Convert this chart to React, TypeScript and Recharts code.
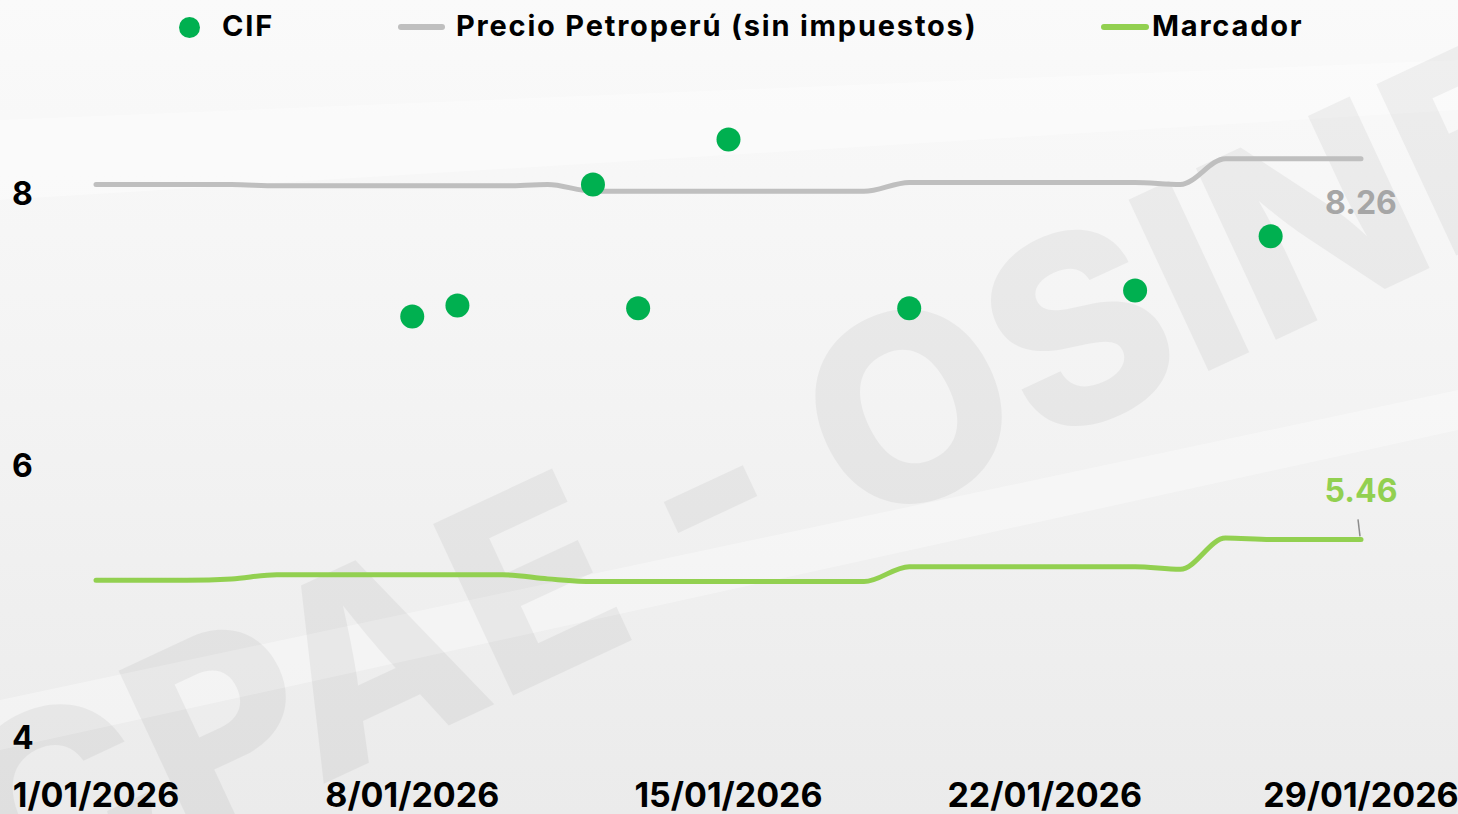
import React from 'react'
import { ComposedChart, Line, Scatter, XAxis, YAxis } from 'recharts'

const days = [1, 2, 3, 4, 5, 6, 7, 8, 9, 10, 11, 12, 13, 14, 15, 16, 17, 18, 19, 20, 21, 22, 23, 24, 25, 26, 27, 28, 29]

const precio = [
  8.07, 8.07, 8.07, 8.07, 8.06, 8.06, 8.06, 8.06, 8.06, 8.06, 8.07, 8.02, 8.02, 8.02, 8.02,
  8.02, 8.02, 8.02, 8.085, 8.085, 8.085, 8.085, 8.085, 8.085, 8.07, 8.26, 8.26, 8.26, 8.26,
]

const marcador = [
  5.16, 5.16, 5.16, 5.17, 5.2, 5.2, 5.2, 5.2, 5.2, 5.2, 5.17, 5.15, 5.15, 5.15, 5.15,
  5.15, 5.15, 5.15, 5.26, 5.26, 5.26, 5.26, 5.26, 5.26, 5.24, 5.47, 5.46, 5.46, 5.46,
]

const cifDays = [8, 9, 12, 13, 15, 19, 24, 27]
const cifValues = [7.1, 7.18, 8.07, 7.16, 8.4, 7.16, 7.29, 7.69]

const xTicks = [1, 8, 15, 22, 29]
const yTicks = [4, 6, 8]

const data = days.map((d, i) => ({ day: d, precio: precio[i], marcador: marcador[i] }))
const cifData = cifDays.map((d, i) => ({ day: d, cif: cifValues[i] }))

const FONT = 'Inter, "Noto Sans", sans-serif'
const W = 1458
const H = 814

// fondo con marca de agua (imagen de fondo en el original)
const Watermark = () => (
  <svg width={W} height={H} style={{ position: 'absolute', left: 0, top: 0 }}>
    <defs>
      <linearGradient id="bg" x1="0" y1="0" x2="0" y2="1">
        <stop offset="0" stopColor="#fafafa" />
        <stop offset="0.5" stopColor="#f3f3f3" />
        <stop offset="1" stopColor="#ebebeb" />
      </linearGradient>
    </defs>
    <rect width={W} height={H} fill="url(#bg)" />
    <polygon points="0,120 1458,60 1458,110 0,200" fill="#ffffff" opacity={0.35} />
    <polygon points="0,700 1458,390 1458,430 0,750" fill="#ffffff" opacity={0.35} />
    <text
      x={0}
      y={0}
      transform="translate(10,930) rotate(-25)"
      fontFamily={FONT}
      fontWeight={800}
      fontSize={260}
      fill="#000"
      opacity={0.045}
    >
      CPAE - OSINERGMIN
    </text>
  </svg>
)

const LegendBar = () => (
  <div style={{ position: 'absolute', left: 0, top: 0, width: W, height: 56, fontFamily: FONT, fontWeight: 700, fontSize: 29, letterSpacing: 1.8, color: '#000' }}>
    <div style={{ position: 'absolute', left: 179, top: 17, width: 21, height: 21, borderRadius: '50%', background: '#00B050' }} />
    <div style={{ position: 'absolute', left: 222, top: 7, lineHeight: '38px' }}>CIF</div>
    <div style={{ position: 'absolute', left: 398, top: 24, width: 47, height: 6, borderRadius: 3, background: '#BFBFBF' }} />
    <div style={{ position: 'absolute', left: 456, top: 7, lineHeight: '38px' }}>Precio Petroperú (sin impuestos)</div>
    <div style={{ position: 'absolute', left: 1101, top: 24, width: 48, height: 6, borderRadius: 3, background: '#92D050' }} />
    <div style={{ position: 'absolute', left: 1152, top: 7, lineHeight: '38px' }}>Marcador</div>
  </div>
)

const last = days.length - 1

export default function App() {
  return (
    <div style={{ position: 'absolute', left: 0, top: 0, width: W, height: H, overflow: 'hidden' }}>
      <Watermark />
      <LegendBar />
      <div style={{ position: 'absolute', left: 0, top: 0 }}>
        <ComposedChart width={W} height={H} data={data} margin={{ top: 112.4, right: 97, left: 0, bottom: 0 }}>
          <XAxis
            type="number"
            dataKey="day"
            domain={[1, 29]}
            ticks={xTicks}
            height={76}
            axisLine={false}
            tickLine={false}
            tickSize={0}
            tickMargin={0}
            interval={0}
            tick={({ x, y, payload }: any) => (
              <text x={x} y={y} dy={69} textAnchor="middle" fontFamily={FONT} fontWeight={700} fontSize={34} fill="#000">
                {`${payload.value}/01/2026`}
              </text>
            )}
          />
          <YAxis
            type="number"
            domain={[4, 8.6]}
            ticks={yTicks}
            width={96}
            axisLine={false}
            tickLine={false}
            tick={({ y, payload }: any) => (
              <text x={12} y={y} dy={11} textAnchor="start" fontFamily={FONT} fontWeight={700} fontSize={32} fill="#000">
                {payload.value}
              </text>
            )}
          />
          <Line
            type="monotone"
            dataKey="precio"
            stroke="#BFBFBF"
            strokeWidth={5}
            strokeLinecap="round"
            dot={false}
            activeDot={false}
            isAnimationActive={false}
            label={({ x, y, index }: any) =>
              index === last ? (
                <text x={x} y={y} dy={55} textAnchor="middle" fontFamily={FONT} fontWeight={700} fontSize={32} fill="#A6A6A6">
                  8.26
                </text>
              ) : null
            }
          />
          <Line
            type="monotone"
            dataKey="marcador"
            stroke="#92D050"
            strokeWidth={5}
            strokeLinecap="round"
            dot={false}
            activeDot={false}
            isAnimationActive={false}
            label={({ x, y, index }: any) =>
              index === last ? (
                <g>
                  <line x1={x - 3} y1={y - 20} x2={x - 1} y2={y - 3} stroke="#8c8c8c" strokeWidth={1.5} />
                  <text x={x} y={y} dy={-37} textAnchor="middle" fontFamily={FONT} fontWeight={700} fontSize={32} fill="#92D050">
                    5.46
                  </text>
                </g>
              ) : null
            }
          />
          <Scatter
            data={cifData}
            dataKey="cif"
            fill="#00B050"
            isAnimationActive={false}
            shape={(p: any) => <circle cx={p.cx} cy={p.cy} r={12} fill="#00B050" />}
          />
        </ComposedChart>
      </div>
    </div>
  )
}
